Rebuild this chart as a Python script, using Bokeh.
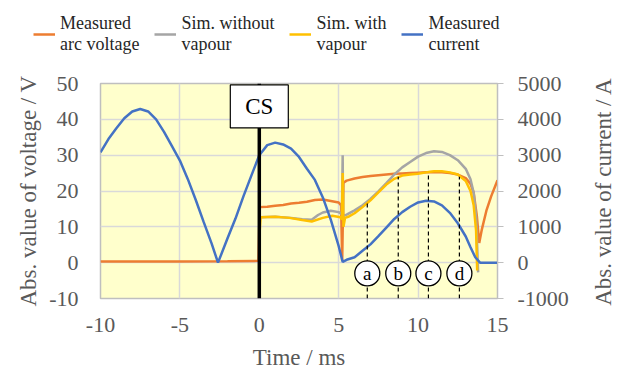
import math
from bokeh.plotting import figure
from bokeh.models import Range1d, LinearAxis, FixedTicker, Legend, LegendItem, Label
from bokeh.core.properties import value
from bokeh.embed import file_html
from bokeh.resources import INLINE

# ---------------- data ----------------
# Measured current (A), secondary axis
t_cur = [-10, -9.5, -9, -8.5, -8, -7.5, -7, -6.5, -6, -5.5, -5, -4.5, -4, -3.5, -3, -2.6,
         -2, -1.5, -1, -0.5, 0, 0.5, 1.0, 1.5, 2.0, 2.5, 3.0, 3.5, 4.0, 4.5, 5.0, 5.25,
         5.5, 6.0, 6.5, 7.0, 7.5, 8.0, 8.5, 9.0, 9.5, 10.0, 10.5, 11.0, 11.5, 12.0, 12.5,
         13.0, 13.3, 13.6, 13.9, 14.5, 15.0]
i_cur = [3080, 3450, 3750, 4030, 4220, 4290, 4220, 4000, 3650, 3250, 2850, 2330, 1750, 1130, 530, 0,
         680, 1230, 1850, 2430, 3000, 3280, 3350, 3300, 3180, 2950, 2620, 2310, 1820, 1200, 460, 20,
         80, 150, 330, 510, 740, 980, 1220, 1410, 1560, 1680, 1730, 1710, 1600, 1390, 1100,
         730, 430, 150, 0, 0, 0]

# Measured arc voltage (V)
t_arc = [-10, -5, -2, -0.05, 0.02, 0.5, 1.0, 1.5, 2.0, 2.5, 3.0, 3.5, 4.0, 4.5, 5.0, 5.15, 5.22,
         5.3, 5.5, 6.0, 6.5, 7.0, 7.5, 8.0, 8.5, 9.0, 9.5, 10.0, 10.5, 11.0, 11.5, 12.0, 12.5,
         13.0, 13.3, 13.5, 13.7, 13.85, 14.0, 14.3, 14.6, 15.0]
v_arc = [0.3, 0.3, 0.4, 0.5, 15.5, 15.6, 15.9, 16.1, 16.5, 16.7, 17.0, 17.5, 17.6, 17.2, 16.8, 16.0, 0.5,
         22.3, 22.9, 23.5, 23.9, 24.2, 24.4, 24.6, 24.8, 24.9, 25.0, 25.1, 25.2, 25.3, 25.2, 25.0, 24.6,
         23.6, 22.0, 19.5, 13.0, 5.5, 9.0, 14.5, 18.5, 23.0]

# Simulation without vapour (V)
t_nov = [0.05, 1.0, 2.0, 2.7, 3.3, 3.7, 4.0, 4.5, 5.0, 5.2, 5.25, 5.28, 5.5, 6.0, 6.5, 7.0, 7.5,
         8.0, 8.5, 9.0, 9.5, 10.0, 10.5, 11.0, 11.5, 12.0, 12.5, 13.0, 13.3, 13.5, 13.65, 13.78]
v_nov = [12.7, 12.8, 12.5, 12.1, 12.0, 13.3, 14.0, 14.5, 14.1, 13.5, 30.0, 13.0, 13.4, 14.6, 16.0, 17.8, 19.9,
         22.2, 24.6, 26.6, 28.1, 29.6, 30.6, 31.1, 30.9, 30.0, 28.6, 26.2, 23.3, 19.5, 13.0, -2.7]

# Simulation with vapour (V)
t_vap = [0.03, 0.08, 1.0, 1.9, 2.7, 3.3, 4.0, 4.6, 5.1, 5.2, 5.25, 5.3, 5.4, 5.6, 6.0, 6.5, 7.0,
         7.5, 8.0, 8.5, 9.0, 9.5, 10.0, 10.5, 11.0, 11.5, 12.0, 12.5, 13.0, 13.3, 13.5, 13.65, 13.72]
v_vap = [9.0, 12.7, 12.8, 12.5, 11.9, 11.5, 12.5, 13.1, 12.7, 12.0, 25.0, 10.0, 12.5, 12.8, 13.8, 15.5, 17.4,
         19.6, 21.8, 23.4, 24.3, 24.6, 24.8, 25.2, 25.5, 25.5, 25.2, 24.6, 22.8, 20.0, 16.0, 9.0, -2.2]

# Marked instants a-d
mk_names = ["a", "b", "c", "d"]
mk_t = [6.8, 8.75, 10.65, 12.6]
mk_top = [17.0, 24.0, 25.0, 24.0]
mk_level = [-3.0, -3.0, -3.0, -3.0]

# Current switch-off instant
cs_t = [0.0]
cs_label = ["CS"]
cs_label_y = [43.6]

x_ticks = [-10, -5, 0, 5, 10, 15]
v_ticks = [-10, 0, 10, 20, 30, 40, 50]
i_ticks = [-1000, 0, 1000, 2000, 3000, 4000, 5000]

series_names = ["Measured\narc voltage", "Sim. without\nvapour", "Sim. with\nvapour", "Measured\ncurrent"]
right_title = "Abs. value of current / A"

# ---------------- style ----------------
FONT = "Liberation Serif"
C_ARC = "#ED7D31"
C_NOV = "#A5A5A5"
C_VAP = "#FFC000"
C_CUR = "#4472C4"
TXT = "#595959"
colors = [C_ARC, C_NOV, C_VAP, C_CUR]
series_t = [t_arc, t_nov, t_vap, t_cur]
series_v = [v_arc, v_nov, v_vap, i_cur]

p = figure(frame_width=397, frame_height=215, output_backend="svg", toolbar_location=None,
           x_range=Range1d(-10, 15), y_range=Range1d(-10, 50),
           min_border_left=100, min_border_right=122, min_border_top=13, min_border_bottom=73)
p.extra_y_ranges = {"cur": Range1d(-1000, 5000)}

p.background_fill_color = "#FFFFCC"
p.border_fill_color = "white"
p.outline_line_color = "#BFBFBF"
p.outline_line_width = 1.5

xa = p.xaxis[0]
ya = p.yaxis[0]
xa.ticker = FixedTicker(ticks=x_ticks)
ya.ticker = FixedTicker(ticks=v_ticks)
p.xgrid.ticker = FixedTicker(ticks=x_ticks)
p.ygrid.ticker = FixedTicker(ticks=v_ticks)
for g in (p.xgrid, p.ygrid):
    g.grid_line_color = "#D9D9D9"
    g.grid_line_width = 1.5

ax2 = LinearAxis(y_range_name="cur", ticker=FixedTicker(ticks=i_ticks))
p.add_layout(ax2, "right")

xa.axis_label = "Time / ms"
ya.axis_label = "Abs. value of voltage / V"
xa.major_label_overrides = {t: str(t) for t in x_ticks}
ya.major_label_overrides = {t: str(t) for t in v_ticks}
ax2.major_label_overrides = {t: str(t) for t in i_ticks}

for ax in (xa, ya, ax2):
    ax.major_label_text_font = FONT
    ax.major_label_text_font_size = "22px"
    ax.major_label_text_color = TXT
    ax.axis_label_text_font = FONT
    ax.axis_label_text_font_size = "23px"
    ax.axis_label_text_font_style = "normal"
    ax.axis_label_text_color = TXT
    ax.minor_tick_line_color = None

for ax in (xa, ya):
    ax.axis_line_color = None
    ax.major_tick_line_color = None
    ax.major_tick_out = 0
    ax.major_tick_in = 0
ya.major_label_standoff = 22
ya.axis_label_standoff = 5
xa.major_label_standoff = 19
xa.axis_label_standoff = 10

ax2.axis_line_color = "#BFBFBF"
ax2.major_tick_line_color = "#BFBFBF"
ax2.major_tick_out = 6
ax2.major_tick_in = 0
ax2.major_label_standoff = 14

# right axis title, reading bottom-to-top, in the right side panel
rt = Label(x=32, y=107, x_units="screen", y_units="screen", text=right_title,
           angle=90, angle_units="deg", text_align="center", text_baseline="middle",
           text_font=FONT, text_font_size="23px", text_color=TXT)
p.add_layout(rt, "right")

# ---------------- series ----------------
r_arc = p.line(t_arc, v_arc, line_color=C_ARC, line_width=2.5)
r_nov = p.line(t_nov, v_nov, line_color=C_NOV, line_width=2.5)
r_vap = p.line(t_vap, v_vap, line_color=C_VAP, line_width=2.5)
r_cur = p.line(t_cur, i_cur, line_color=C_CUR, line_width=2.5, y_range_name="cur")

# marker lines a-d
p.segment(x0=mk_t, y0=[v_ticks[0]] * len(mk_t), x1=mk_t, y1=mk_top,
          line_color="black", line_width=1.2, line_dash="4 3")
p.scatter(mk_t, mk_level, marker="circle", size=25, fill_color="white",
          line_color="black", line_width=1.3)
p.text(mk_t, mk_level, text=mk_names, text_font=value(FONT), text_font_size="19px",
       text_align="center", text_baseline="middle", text_color="black")

# CS line and label
p.segment(x0=cs_t, y0=[v_ticks[0]], x1=cs_t, y1=[v_ticks[-1]], line_color="black", line_width=3.5)
p.rect(cs_t, cs_label_y, width=58, height=43, width_units="screen", height_units="screen",
       fill_color="white", line_color="black", line_width=1.2)
p.text(cs_t, cs_label_y, text=cs_label, text_font=value(FONT), text_font_size="23px",
       text_align="center", text_baseline="middle", text_color="black")

# ---------------- legend strip (separate root above the plot) ----------------
lg = figure(width=619, height=70, output_backend="svg", toolbar_location=None,
            x_range=Range1d(1000, 1619), y_range=Range1d(1000, 1070),
            x_axis_location=None, y_axis_location=None,
            min_border_left=0, min_border_right=0, min_border_top=0, min_border_bottom=0)
lg.outline_line_color = None
lg.grid.visible = False
lg.background_fill_color = "white"
# same series, outside this strip's visible range: only their legend glyphs show
proxies = [lg.line(t, v, line_color=c, line_width=2.5) for t, v, c in zip(series_t, series_v, colors)]
legend = Legend(items=[LegendItem(label=n, renderers=[r]) for n, r in zip(series_names, proxies)],
                orientation="horizontal", location=(33, 15), margin=0,
                border_line_color=None, background_fill_alpha=0,
                label_text_font=FONT, label_text_font_size="18px", label_text_color="#262626",
                label_text_line_height=1.65,
                glyph_width=22, glyph_height=20, label_standoff=5, spacing=15, padding=5)
lg.add_layout(legend)

open("out.html", "w").write(file_html([lg, p], INLINE))
